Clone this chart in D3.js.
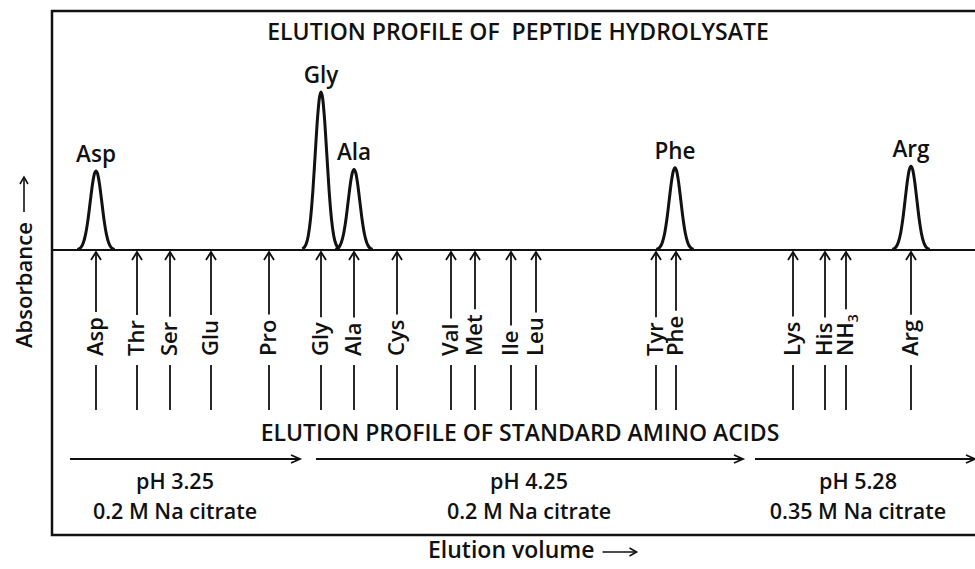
<!DOCTYPE html>
<html>
<head>
<meta charset="utf-8">
<script src="https://cdn.jsdelivr.net/npm/d3@7"></script>
<style>
  html, body { margin: 0; padding: 0; background: #fff; }
  text { font-family: "Open Sans", "Noto Sans", sans-serif; font-weight: 600; fill: #111; }
</style>
</head>
<body>
<div id="chart"></div>
<script>
// elution volume in arbitrary units (0 = left edge of frame)
const peakNames = ['Asp', 'Gly', 'Ala', 'Phe', 'Arg'];
const peakVolumes = [44, 269, 302, 623, 859];
const peakHeights = [0.50, 1.00, 0.51, 0.52, 0.53];

const standardNames = ['Asp', 'Thr', 'Ser', 'Glu', 'Pro', 'Gly', 'Ala', 'Cys', 'Val', 'Met',
  'Ile', 'Leu', 'Tyr', 'Phe', 'Lys', 'His', 'NH3', 'Arg'];
const standardVolumes = [44, 85, 118, 159, 217, 269, 302, 345, 399, 423,
  459, 484, 604, 624, 741, 773, 794, 859];

const bufferPH = ['pH 3.25', 'pH 4.25', 'pH 5.28'];
const bufferConc = ['0.2 M Na citrate', '0.2 M Na citrate', '0.35 M Na citrate'];
const bufferStart = [18, 264, 703];
const bufferEnd = [248, 691, 923];
const bufferMid = [123, 477, 806];

const width = 975;
const height = 569;

const svg = d3.select('#chart')
  .append('svg')
  .attr('width', width)
  .attr('height', height);

const x = d3.scaleLinear().domain([0, 923]).range([52, 975]);
const y = d3.scaleLinear().domain([0, 1]).range([250, 92]);

// frame (open on the right)
svg.append('path')
  .attr('d', 'M975,11 H52 V535 H975')
  .attr('fill', 'none')
  .attr('stroke', '#111')
  .attr('stroke-width', 2.5);

svg.append('text')
  .attr('x', 518).attr('y', 40)
  .attr('text-anchor', 'middle')
  .attr('font-size', 23)
  .attr('xml:space', 'preserve')
  .text('ELUTION PROFILE OF  PEPTIDE HYDROLYSATE');

// baseline
svg.append('line')
  .attr('x1', x(0)).attr('x2', x(923))
  .attr('y1', y(0)).attr('y2', y(0))
  .attr('stroke', '#111').attr('stroke-width', 2.2);

// peak outline, offsets in units of peak width
const peakShape = [[-3.2, 0.006], [-2.6, 0.034], [-2.2, 0.089], [-1.8, 0.198], [-1.4, 0.375],
  [-1, 0.607], [-0.6, 0.835], [-0.3, 0.956], [0, 1], [0.3, 0.956], [0.6, 0.835], [1, 0.607],
  [1.4, 0.375], [1.8, 0.198], [2.2, 0.089], [2.6, 0.034], [3.2, 0.006]];
const sigma = 5.8;

const line = d3.line().curve(d3.curveMonotoneX);

const peaks = svg.append('g');
peakNames.forEach(function (name, i) {
  const pts = peakShape.map(function (p) {
    return [x(peakVolumes[i] + p[0] * sigma), y(peakHeights[i] * p[1])];
  });
  peaks.append('path')
    .attr('d', line(pts))
    .attr('fill', 'none')
    .attr('stroke', '#111')
    .attr('stroke-width', 3);
  peaks.append('text')
    .attr('x', x(peakVolumes[i]))
    .attr('y', y(peakHeights[i]) - 9)
    .attr('text-anchor', 'middle')
    .attr('font-size', 22.5)
    .text(name);
});

// standards: arrows pointing up at the baseline
const labelBottom = 356;
const std = svg.append('g');
standardNames.forEach(function (name, i) {
  const cx = x(standardVolumes[i]);
  const g = std.append('g');
  const t = g.append('text')
    .attr('transform', 'translate(' + (cx + 7) + ',' + labelBottom + ') rotate(-90)')
    .attr('font-size', 22);
  if (name === 'NH3') {
    t.append('tspan').text('NH');
    t.append('tspan').attr('font-size', 14).attr('dy', 5).text('3');
  } else {
    t.text(name);
  }
  const len = t.node().getComputedTextLength();
  g.append('line')
    .attr('x1', cx).attr('x2', cx)
    .attr('y1', y(0) + 2).attr('y2', labelBottom - len - 5)
    .attr('stroke', '#111').attr('stroke-width', 1.8);
  g.append('line')
    .attr('x1', cx).attr('x2', cx)
    .attr('y1', 365).attr('y2', 410)
    .attr('stroke', '#111').attr('stroke-width', 1.8);
  g.append('path')
    .attr('d', 'M' + (cx - 5) + ',' + (y(0) + 10) + ' L' + cx + ',' + (y(0) + 2) + ' L' + (cx + 5) + ',' + (y(0) + 10))
    .attr('fill', 'none')
    .attr('stroke', '#111').attr('stroke-width', 1.8);
});

svg.append('text')
  .attr('x', 520).attr('y', 441)
  .attr('text-anchor', 'middle')
  .attr('font-size', 23)
  .text('ELUTION PROFILE OF STANDARD AMINO ACIDS');

// buffer steps
const buf = svg.append('g');
bufferPH.forEach(function (ph, i) {
  const ay = 459;
  const x1 = x(bufferStart[i]);
  const x2 = x(bufferEnd[i]);
  buf.append('line')
    .attr('x1', x1).attr('x2', x2 - 1)
    .attr('y1', ay).attr('y2', ay)
    .attr('stroke', '#111').attr('stroke-width', 1.8);
  buf.append('path')
    .attr('d', 'M' + (x2 - 9) + ',' + (ay - 4) + ' L' + x2 + ',' + ay + ' L' + (x2 - 9) + ',' + (ay + 4))
    .attr('fill', 'none')
    .attr('stroke', '#111').attr('stroke-width', 1.8);
  buf.append('text')
    .attr('x', x(bufferMid[i])).attr('y', 489)
    .attr('text-anchor', 'middle')
    .attr('font-size', 21.5)
    .text(ph);
  buf.append('text')
    .attr('x', x(bufferMid[i])).attr('y', 519)
    .attr('text-anchor', 'middle')
    .attr('font-size', 21.5)
    .text(bufferConc[i]);
});

// axis titles
const xt = svg.append('text')
  .attr('x', 428).attr('y', 558)
  .attr('font-size', 23)
  .text('Elution volume');
const xl = xt.node().getComputedTextLength();
svg.append('line')
  .attr('x1', 428 + xl + 8).attr('x2', 428 + xl + 42)
  .attr('y1', 552).attr('y2', 552)
  .attr('stroke', '#111').attr('stroke-width', 1.6);
svg.append('path')
  .attr('d', 'M' + (428 + xl + 35) + ',548 L' + (428 + xl + 42) + ',552 L' + (428 + xl + 35) + ',556')
  .attr('fill', 'none').attr('stroke', '#111').attr('stroke-width', 1.6);

const yt = svg.append('text')
  .attr('transform', 'translate(32,348) rotate(-90)')
  .attr('font-size', 22)
  .text('Absorbance');
const yl = yt.node().getComputedTextLength();
svg.append('line')
  .attr('x1', 24).attr('x2', 24)
  .attr('y1', 348 - yl - 10).attr('y2', 177)
  .attr('stroke', '#111').attr('stroke-width', 1.6);
svg.append('path')
  .attr('d', 'M20,184 L24,177 L28,184')
  .attr('fill', 'none').attr('stroke', '#111').attr('stroke-width', 1.6);
</script>
</body>
</html>
